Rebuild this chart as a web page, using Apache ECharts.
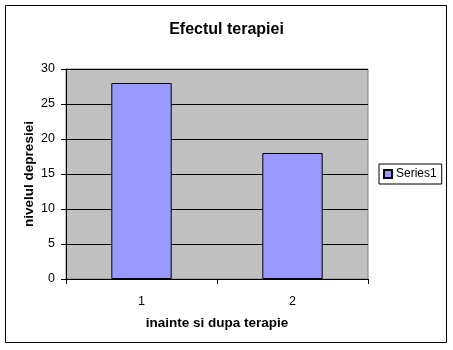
<!DOCTYPE html>
<html><head><meta charset="utf-8">
<script src="https://cdn.jsdelivr.net/npm/echarts@6/dist/echarts.min.js"></script>
<style>html,body{margin:0;padding:0;background:#fff}#c{width:453px;height:350px}</style>
</head><body><div id="c"></div>
<script>
const categories = ['1', '2'];
const series1 = [28, 18];
const yTicks = [0, 5, 10, 15, 20, 25, 30];
const titleText = 'Efectul terapiei';
const xTitle = 'inainte si dupa terapie';
const yTitle = 'nivelul depresiei';
const seriesName = 'Series1';

const chart = echarts.init(document.getElementById('c'), null, {renderer: 'canvas'});
const F = 'Arial, "Liberation Sans", sans-serif';
chart.setOption({
  animation: false,
  textStyle: {fontFamily: F},
  graphic: [{type: 'rect', shape: {x: 5.5, y: 5.5, width: 441, height: 337}, style: {fill: 'none', stroke: '#000', lineWidth: 1}, z: -1}],
  title: {text: titleText, left: 'center', top: 17, textStyle: {fontFamily: F, fontSize: 16, fontWeight: 'bold', color: '#000'}},
  legend: {data: [seriesName], left: 379, top: 164, orient: 'vertical', borderColor: '#000', borderWidth: 1, padding: [4, 5, 4, 4], itemWidth: 8, itemHeight: 8, itemGap: 0, icon: 'rect',
    textStyle: {fontFamily: F, fontSize: 12, color: '#000', padding: [0, 0, 0, -1]}},
  grid: {left: 66, right: 85, top: 69, bottom: 71, show: true, backgroundColor: '#C0C0C0', borderColor: '#808080', borderWidth: 1},
  xAxis: {type: 'category', data: categories, boundaryGap: true,
    name: xTitle, nameLocation: 'middle', nameGap: 37, nameMoveOverlap: false, nameTextStyle: {fontFamily: F, fontSize: 13.5, fontWeight: 'bold', color: '#000'},
    axisLine: {lineStyle: {color: '#000'}}, axisTick: {show: true, length: 5, lineStyle: {color: '#000'}},
    axisLabel: {color: '#000', fontSize: 12.5, margin: 16, fontFamily: F}},
  yAxis: {type: 'value', min: yTicks[0], max: yTicks[yTicks.length - 1], interval: 5,
    name: yTitle, nameLocation: 'middle', nameGap: 30, nameMoveOverlap: false, nameTextStyle: {fontFamily: F, fontSize: 13.5, fontWeight: 'bold', color: '#000'},
    axisLine: {show: true, lineStyle: {color: '#000'}}, axisTick: {show: true, length: 5, lineStyle: {color: '#000'}},
    axisLabel: {color: '#000', fontSize: 12.5, margin: 11, fontFamily: F},
    splitLine: {show: true, lineStyle: {color: '#000', width: 1}}},
  series: [{name: seriesName, type: 'bar', data: series1, barWidth: '40%',
    itemStyle: {color: '#9999FF', borderColor: '#000', borderWidth: 1}}]
});
</script></body></html>
